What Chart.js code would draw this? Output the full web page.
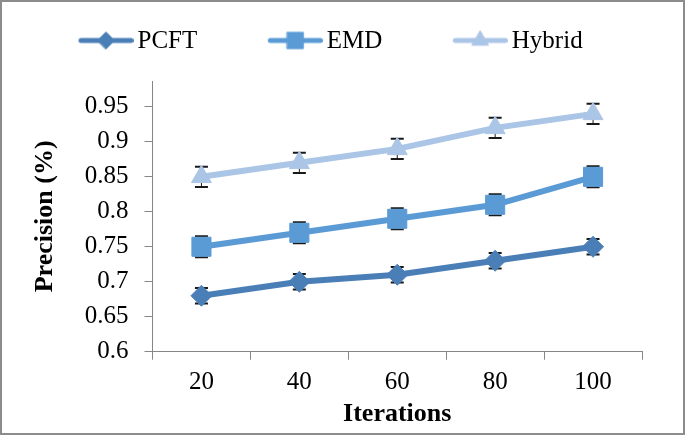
<!DOCTYPE html>
<html>
<head>
<meta charset="utf-8">
<script src="https://cdn.jsdelivr.net/npm/chart.js@4.4.1/dist/chart.umd.min.js"></script>
<style>
  html, body { margin: 0; padding: 0; background: #fff; }
  .frame { width: 685px; height: 435px; box-sizing: border-box; border: 2px solid #8c8c8c; background: #fff; }
  .frame canvas { display: block; }
</style>
</head>
<body>
<div class="frame"><canvas id="precisionChart" width="681" height="431"></canvas></div>
<script>
// ==========================
// DATA
// ==========================
const iterations = ["20", "40", "60", "80", "100"];
const pcft = [0.68, 0.70, 0.71, 0.73, 0.75];
const emd = [0.75, 0.77, 0.79, 0.81, 0.85];
const hybrid = [0.85, 0.87, 0.89, 0.92, 0.94];
const pcftErr = [0.011, 0.011, 0.011, 0.011, 0.011];
const emdErr = [0.015, 0.015, 0.015, 0.015, 0.015];
const hybridErr = [0.0145, 0.0145, 0.0145, 0.0145, 0.0145];
const yTicks = [0.6, 0.65, 0.7, 0.75, 0.8, 0.85, 0.9, 0.95];
const yTickLabels = ["0.6", "0.65", "0.7", "0.75", "0.8", "0.85", "0.9", "0.95"];

const serif = "'Liberation Serif', 'Times New Roman', serif";
const axisGray = "#868686";
const colors = { pcft: "#4a7eb7", emd: "#5b9bd5", hybrid: "#abc5e7" };

// legend swatch: line with the marker in the middle, placed at the right of a wide transparent box
function legendSample(color, pointStyle, radius) {
  const c = document.createElement("canvas");
  c.width = 107;
  c.height = 24;
  const g = c.getContext("2d");
  g.strokeStyle = color;
  g.lineWidth = 5;
  g.lineCap = "round";
  g.beginPath();
  g.moveTo(c.width - 55 + 2.5, 11);
  g.lineTo(c.width - 2.5, 11);
  g.stroke();
  g.fillStyle = color;
  g.lineWidth = 1;
  Chart.helpers.drawPoint(g, { pointStyle, radius, borderWidth: 1 }, c.width - 27.5, 11);
  return c;
}

// error bars drawn under the markers
const errorBars = {
  id: "errorBars",
  beforeDatasetsDraw(chart) {
    const { ctx, scales: { x, y } } = chart;
    ctx.save();
    ctx.strokeStyle = "#1a1a1a";
    chart.data.datasets.forEach(ds => {
      ds.data.forEach((v, i) => {
        const px = x.getPixelForValue(i);
        const top = y.getPixelForValue(v + ds.errors[i]);
        const bot = y.getPixelForValue(v - ds.errors[i]);
        ctx.lineWidth = 1;
        ctx.beginPath();
        ctx.moveTo(px, top);
        ctx.lineTo(px, bot);
        ctx.stroke();
        ctx.lineWidth = 2;
        ctx.beginPath();
        ctx.moveTo(px - 6.5, top);
        ctx.lineTo(px + 6.5, top);
        ctx.moveTo(px - 6.5, bot);
        ctx.lineTo(px + 6.5, bot);
        ctx.stroke();
      });
    });
    ctx.restore();
  }
};

const samples = [
  legendSample(colors.pcft, "rectRot", 8.5),
  legendSample(colors.emd, "rect", 11.5),
  legendSample(colors.hybrid, "triangle", 9.5)
];

const precisionChart = new Chart(document.getElementById("precisionChart").getContext("2d"), {
  type: "line",
  data: {
    labels: iterations,
    datasets: [
      {
        label: "PCFT", data: pcft, errors: pcftErr,
        borderColor: colors.pcft, backgroundColor: colors.pcft,
        borderWidth: 6, pointStyle: "rectRot", pointRadius: 10.5, pointBorderWidth: 1
      },
      {
        label: "EMD", data: emd, errors: emdErr,
        borderColor: colors.emd, backgroundColor: colors.emd,
        borderWidth: 6, pointStyle: "rect", pointRadius: 13.5, pointBorderWidth: 1
      },
      {
        label: "Hybrid", data: hybrid, errors: hybridErr,
        borderColor: colors.hybrid, backgroundColor: colors.hybrid,
        borderWidth: 6, pointStyle: "triangle", pointRadius: 11.5, pointBorderWidth: 1
      }
    ]
  },
  options: {
    responsive: false,
    animation: false,
    layout: { padding: { left: 6, right: 41, top: 0, bottom: 0 } },
    plugins: {
      tooltip: { enabled: false },
      // empty title used as a gap between the legend and the plot
      title: {
        display: true, text: "", weight: 0,
        font: { size: 12, lineHeight: 1 },
        padding: { top: 5, bottom: 0 }
      },
      legend: {
        position: "top",
        align: "start",
        labels: {
          usePointStyle: true,
          pointStyleWidth: 90,
          padding: 27,
          color: "#000",
          font: { family: serif, size: 25 },
          generateLabels: chart => chart.data.datasets.map((ds, i) => ({
            text: ds.label,
            pointStyle: samples[i],
            fillStyle: ds.borderColor,
            strokeStyle: ds.borderColor,
            lineWidth: 0,
            fontColor: "#000",
            hidden: false,
            datasetIndex: i
          }))
        }
      }
    },
    scales: {
      x: {
        offset: true,
        afterFit: scale => { scale.height = 81.3; },
        border: { color: axisGray, width: 1 },
        grid: { offset: true, drawOnChartArea: false, tickLength: 8, color: axisGray },
        ticks: { color: "#000", font: { family: serif, size: 25 }, padding: 8 },
        title: {
          display: true, text: "Iterations", color: "#000",
          font: { family: serif, size: 26, weight: "bold" },
          padding: { top: 0, bottom: 3 }
        }
      },
      y: {
        min: 0.6,
        max: 0.987,
        afterBuildTicks: scale => { scale.ticks = yTicks.map(value => ({ value })); },
        afterFit: scale => { scale.width = 144.5; },
        border: { color: axisGray, width: 1 },
        grid: { drawOnChartArea: false, tickLength: 8, color: axisGray },
        ticks: {
          color: "#000", font: { family: serif, size: 25 }, padding: 16,
          callback: (value, index) => yTickLabels[index]
        },
        title: {
          display: true, text: "Precision (%)", color: "#000",
          font: { family: serif, size: 26, weight: "bold" },
          padding: { top: 22, bottom: 0 }
        }
      }
    }
  },
  plugins: [errorBars]
});
</script>
</body>
</html>
